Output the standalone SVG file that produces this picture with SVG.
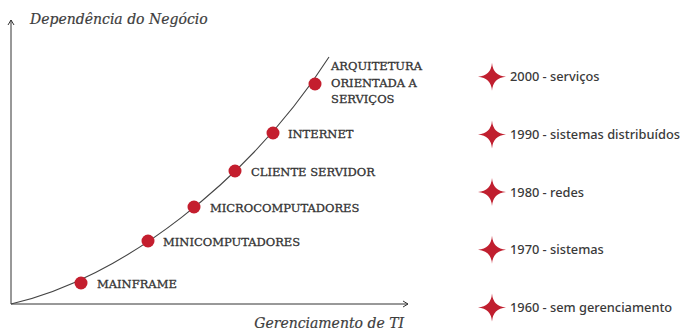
<svg xmlns="http://www.w3.org/2000/svg" width="682" height="330" viewBox="0 0 682 330">
<style>
.axis{stroke:#333;stroke-width:1;fill:none}
.curve{stroke:#444;stroke-width:1.1;fill:none}
.dot{fill:#c41e2e}
.star{fill:#c01f2f}
.ttl{font-family:"DejaVu Serif",serif;font-style:italic;font-size:14px;fill:#3d3d3d;stroke:#3d3d3d;stroke-width:0.2}
.lbl{font-family:"DejaVu Serif",serif;font-size:11.5px;fill:#333;stroke:#333;stroke-width:0.3}
.leg{font-family:"Noto Sans",sans-serif;font-size:12.8px;font-weight:500;fill:#3a3a3a}
</style>
<defs>
<path id="st" d="M0,-14 Q1,-1 14,0 Q1,1 0,14 Q-1,1 -14,0 Q-1,-1 0,-14 Z"/>
</defs>
<g id="axes">
<path class="axis" d="M11,304 V20 M8,25 L11,20 L14,25"/>
<path class="axis" d="M11,304 H408 M403,301 L408,304 L403,307"/>
<text class="ttl" x="30" y="24">Dependência do Negócio</text>
<text class="ttl" x="404" y="328" text-anchor="end">Gerenciamento de TI</text>
</g>
<g id="connectors">
<path class="curve" d="M11,304 C120,280 250,180 329,57"/>
</g>
<g id="mainframe"><circle class="dot" cx="81" cy="283" r="6.5"/><text class="lbl" x="97" y="288">MAINFRAME</text></g>
<g id="minicomputadores"><circle class="dot" cx="148" cy="241" r="6.5"/><text class="lbl" x="163" y="246">MINICOMPUTADORES</text></g>
<g id="microcomputadores"><circle class="dot" cx="194" cy="207" r="6.5"/><text class="lbl" x="210" y="212">MICROCOMPUTADORES</text></g>
<g id="cliente-servidor"><circle class="dot" cx="235" cy="171" r="6.5"/><text class="lbl" x="251" y="176">CLIENTE SERVIDOR</text></g>
<g id="internet"><circle class="dot" cx="273" cy="133" r="6.5"/><text class="lbl" x="288" y="138">INTERNET</text></g>
<g id="soa"><circle class="dot" cx="315" cy="84" r="6.5"/><text class="lbl" x="331" y="70">ARQUITETURA</text><text class="lbl" x="331" y="86.5">ORIENTADA A</text><text class="lbl" x="331" y="103">SERVIÇOS</text></g>
<g id="leg2000"><use href="#st" class="star" x="492" y="76.7"/><text class="leg" x="510" y="81.3">2000 - serviços</text></g>
<g id="leg1990"><use href="#st" class="star" x="492" y="134.4"/><text class="leg" x="510" y="139">1990 - sistemas distribuídos</text></g>
<g id="leg1980"><use href="#st" class="star" x="492" y="192"/><text class="leg" x="510" y="196.6">1980 - redes</text></g>
<g id="leg1970"><use href="#st" class="star" x="492" y="249.7"/><text class="leg" x="510" y="254.3">1970 - sistemas</text></g>
<g id="leg1960"><use href="#st" class="star" x="492" y="307.4"/><text class="leg" x="510" y="312">1960 - sem gerenciamento</text></g>
</svg>
